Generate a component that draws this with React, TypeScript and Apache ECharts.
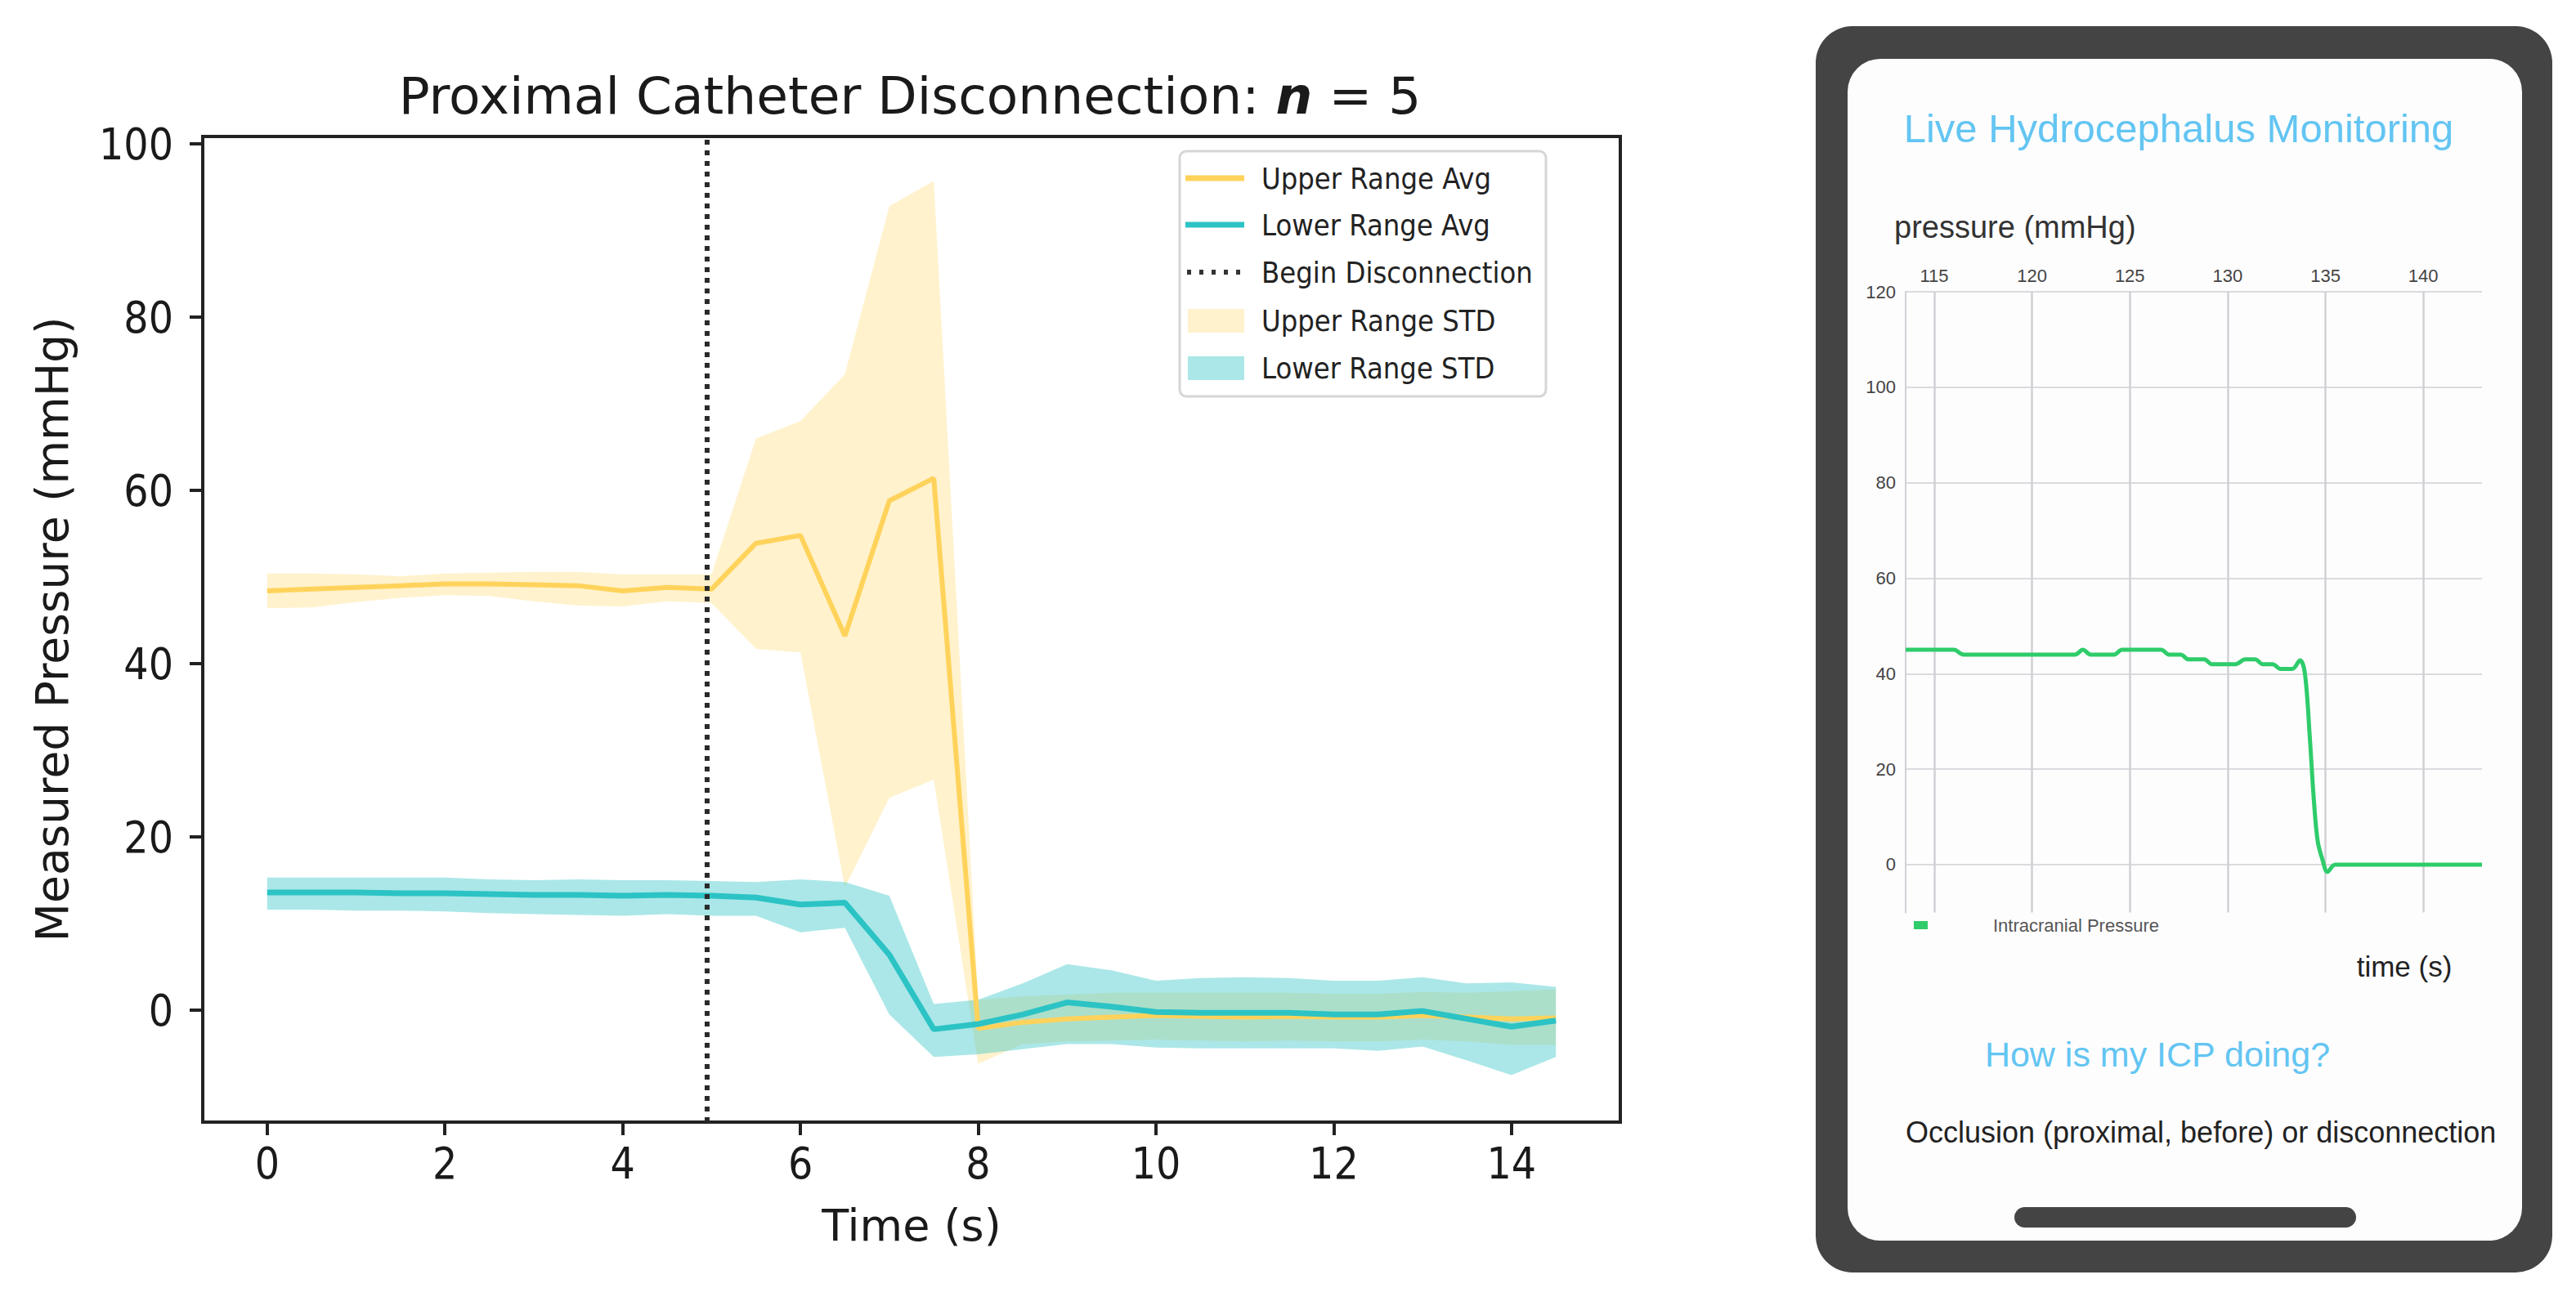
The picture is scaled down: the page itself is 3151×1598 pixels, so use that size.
import React, { useEffect, useRef } from "react";
import * as echarts from "echarts";

// ---------------- Left chart data ----------------
const timeS = [0, 0.5, 1, 1.5, 2, 2.5, 3, 3.5, 4, 4.5, 5, 5.5, 6, 6.5, 7, 7.5, 8, 8.5, 9, 9.5, 10, 10.5, 11, 11.5, 12, 12.5, 13, 13.5, 14, 14.5];
const upperAvg = [48.4, 48.6, 48.8, 49.0, 49.2, 49.2, 49.1, 49.0, 48.4, 48.8, 48.6, 53.9, 54.8, 43.2, 58.8, 61.4, -2.1, -1.4, -1.0, -0.8, -0.6, -0.7, -0.8, -0.7, -0.8, -0.8, -0.6, -0.8, -1.0, -0.9];
const upperStdHigh = [50.4, 50.4, 50.3, 50.1, 50.4, 50.5, 50.6, 50.6, 50.3, 50.3, 50.3, 66.0, 68.0, 73.4, 92.8, 95.7, 1.2, 1.6, 1.8, 2.0, 2.0, 2.0, 2.0, 2.0, 1.9, 1.9, 2.1, 2.0, 2.2, 2.4];
const upperStdLow = [46.4, 46.5, 47.1, 47.6, 47.9, 47.8, 47.2, 46.7, 46.6, 47.2, 47.0, 41.7, 41.3, 14.2, 24.5, 26.6, -6.2, -3.9, -3.6, -3.5, -3.4, -3.5, -3.6, -3.5, -3.6, -3.6, -3.4, -3.6, -4.0, -4.0];
const lowerAvg = [13.6, 13.6, 13.6, 13.5, 13.5, 13.4, 13.3, 13.3, 13.2, 13.3, 13.2, 13.0, 12.2, 12.4, 6.4, -2.2, -1.6, -0.5, 0.9, 0.4, -0.2, -0.3, -0.3, -0.3, -0.5, -0.5, -0.1, -1.0, -1.9, -1.2];
const lowerStdHigh = [15.3, 15.3, 15.3, 15.3, 15.3, 15.1, 15.0, 15.1, 15.0, 15.0, 14.9, 14.8, 15.1, 14.8, 13.2, 0.7, 1.2, 3.1, 5.3, 4.6, 3.4, 3.7, 3.8, 3.7, 3.4, 3.4, 3.8, 3.1, 3.2, 2.7];
const lowerStdLow = [11.6, 11.6, 11.5, 11.5, 11.4, 11.2, 11.1, 11.0, 10.9, 11.1, 10.9, 10.9, 9.0, 9.5, -0.5, -5.4, -5.1, -4.5, -3.9, -3.9, -4.3, -4.4, -4.4, -4.4, -4.4, -4.7, -4.2, -5.8, -7.5, -5.4];
const disconnectTime = 4.95;
const xRange = [-0.725, 15.225];
const yRange = [-12.92, 100.85];
const xTicks = [0, 2, 4, 6, 8, 10, 12, 14];
const yTicks = [0, 20, 40, 60, 80, 100];
const legendLabels = ["Upper Range Avg", "Lower Range Avg", "Begin Disconnection", "Upper Range STD", "Lower Range STD"];

// ---------------- Phone chart data ----------------
const icpTime = [113.54, 116.0, 116.5, 122.2, 122.6, 123.0, 124.2, 124.6, 126.6, 127.0, 127.6, 128.0, 128.8, 129.2, 130.4, 130.9, 131.4, 131.8, 132.3, 132.7, 133.3, 133.7, 133.95, 134.2, 134.4, 134.6, 134.85, 135.1, 135.5, 143.0];
const icpValue = [45, 45, 44, 44, 45, 44, 44, 45, 45, 44, 44, 43, 43, 42, 42, 43, 43, 42, 42, 41, 41, 42.8, 40, 26.6, 13.9, 5, 1, -1.5, 0, 0];
const icpXRange = [113.54, 143.0];
const icpYRange = [-10, 120];
const icpXTicks = [115, 120, 125, 130, 135, 140];
const icpYTicks = [0, 20, 40, 60, 80, 100, 120];

const YELLOW = "#FFD35B";
const CYAN = "#2CC3C5";
const YELLOW_BAND = "rgba(255,211,91,0.3)";
const CYAN_BAND = "rgba(44,195,197,0.4)";
const GREEN = "#2ECC6A";
const BLUE = "#63C5F2";
const MPL = "'DejaVu Sans Condensed', 'DejaVu Sans', sans-serif";
const MPL_REG = "'DejaVu Sans', sans-serif";
const APP = "'Liberation Sans', Arial, sans-serif";

function bandRender(hi: number[], lo: number[], fill: string) {
  return (params: any, api: any) => {
    if (params.dataIndex !== 0) return { type: "group", children: [] };
    const pts: number[][] = [];
    for (let i = 0; i < timeS.length; i++) pts.push(api.coord([timeS[i], hi[i]]));
    for (let i = timeS.length - 1; i >= 0; i--) pts.push(api.coord([timeS[i], lo[i]]));
    return { type: "polygon", shape: { points: pts }, style: { fill } };
  };
}

function txt(x: number, y: number, text: string, size: number, fill: string, family: string, align = "center", extra: any = {}) {
  return {
    type: "text",
    x,
    y,
    silent: true,
    ...extra,
    style: {
      text,
      fill,
      fontSize: size,
      fontFamily: family,
      textAlign: align,
      textVerticalAlign: "middle",
      align,
      verticalAlign: "middle",
      ...(extra.style || {}),
    },
  };
}

export default function App() {
  const ref = useRef<HTMLDivElement>(null);
  useEffect(() => {
    document.body.style.margin = "0";
    if (!ref.current) return;
    const chart = echarts.init(ref.current, undefined, { renderer: "svg" });

    const legendRows = [218, 275, 333, 392, 450];
    const graphic: any[] = [
      // phone body
      { type: "rect", z: -10, silent: true, shape: { x: 2221, y: 32, width: 901, height: 1525, r: 45 }, style: { fill: "#444444" } },
      { type: "rect", z: -9, silent: true, shape: { x: 2260, y: 72, width: 825, height: 1446, r: 40 }, style: { fill: "#FEFDFE" } },
      { type: "rect", z: -8, silent: true, shape: { x: 2464, y: 1477, width: 418, height: 25, r: 12.5 }, style: { fill: "#444444" } },
      txt(2665, 157, "Live Hydrocephalus Monitoring", 49, BLUE, APP),
      txt(2317, 278, "pressure (mmHg)", 38, "#333333", APP, "left"),
      { type: "rect", silent: true, shape: { x: 2341, y: 1127, width: 17, height: 10 }, style: { fill: GREEN } },
      txt(2438, 1132, "Intracranial Pressure", 22, "#555555", APP, "left"),
      txt(2941, 1182, "time (s)", 35, "#222222", APP),
      txt(2639, 1290, "How is my ICP doing?", 43, BLUE, APP),
      txt(2331, 1385, "Occlusion (proximal, before) or disconnection", 36, "#222222", APP, "left"),
      // left chart texts
      {
        type: "text", x: 1113, y: 117, silent: true,
        style: {
          text: "Proximal Catheter Disconnection: {i|n} = 5",
          fill: "#1a1a1a", fontSize: 63, fontFamily: MPL_REG,
          textAlign: "center", textVerticalAlign: "middle", align: "center", verticalAlign: "middle",
          rich: { i: { fontSize: 63, fontFamily: MPL_REG, fontStyle: "italic", fontWeight: "bold", fill: "#1a1a1a" } },
        },
      },
      txt(1115, 1499, "Time (s)", 54, "#1a1a1a", MPL_REG),
      txt(64, 770, "Measured Pressure (mmHg)", 55, "#1a1a1a", MPL_REG, "center", { rotation: Math.PI / 2 }),
      // legend
      { type: "rect", z: 20, silent: true, shape: { x: 1443, y: 185, width: 448, height: 300, r: 8 }, style: { fill: "rgba(255,255,255,0.8)", stroke: "#d6d6d6", lineWidth: 3 } },
      { type: "line", z: 21, silent: true, shape: { x1: 1450, y1: legendRows[0], x2: 1522, y2: legendRows[0] }, style: { stroke: YELLOW, lineWidth: 7 } },
      { type: "line", z: 21, silent: true, shape: { x1: 1450, y1: legendRows[1], x2: 1522, y2: legendRows[1] }, style: { stroke: CYAN, lineWidth: 7 } },
      { type: "line", z: 21, silent: true, shape: { x1: 1452, y1: legendRows[2], x2: 1522, y2: legendRows[2] }, style: { stroke: "#333333", lineWidth: 6, lineDash: [5, 10] } },
      { type: "rect", z: 21, silent: true, shape: { x: 1453, y: legendRows[3] - 14, width: 69, height: 29 }, style: { fill: YELLOW_BAND } },
      { type: "rect", z: 21, silent: true, shape: { x: 1453, y: legendRows[4] - 14, width: 69, height: 29 }, style: { fill: CYAN_BAND } },
      ...legendLabels.map((l, i) => txt(1543, legendRows[i], l, 36, "#222222", MPL, "left", { z: 22 })),
    ];

    const option: any = {
      animation: false,
      backgroundColor: "#ffffff",
      grid: [
        { left: 248, top: 167, width: 1734, height: 1206, show: true, borderColor: "#222222", borderWidth: 4, backgroundColor: "transparent", containLabel: false },
        { left: 2331, top: 357, width: 705, height: 759.4, show: false, containLabel: false },
      ],
      xAxis: [
        {
          type: "value", gridIndex: 0, min: xRange[0], max: xRange[1],
          axisLine: { show: false, onZero: false },
          axisTick: { show: true, customValues: xTicks, length: 16, lineStyle: { color: "#222222", width: 4 } },
          axisLabel: { customValues: xTicks, fontSize: 53, fontFamily: MPL, color: "#1a1a1a", margin: 24 },
          splitLine: { show: false },
        },
        {
          type: "value", gridIndex: 1, min: icpXRange[0], max: icpXRange[1], position: "top",
          axisLine: { show: false, onZero: false },
          axisTick: { show: false, customValues: icpXTicks },
          axisLabel: { customValues: icpXTicks, fontSize: 22, fontFamily: APP, color: "#444444", margin: 9 },
          splitLine: { show: true, lineStyle: { color: "#d2cfd5", width: 2.5 } },
        },
      ],
      yAxis: [
        {
          type: "value", gridIndex: 0, min: yRange[0], max: yRange[1],
          axisLine: { show: false, onZero: false },
          axisTick: { show: true, customValues: yTicks, length: 16, lineStyle: { color: "#222222", width: 4 } },
          axisLabel: { customValues: yTicks, fontSize: 53, fontFamily: MPL, color: "#1a1a1a", margin: 36 },
          splitLine: { show: false },
        },
        {
          type: "value", gridIndex: 1, min: icpYRange[0], max: icpYRange[1],
          axisLine: { show: true, onZero: false, lineStyle: { color: "#d2cfd5", width: 2 } },
          axisTick: { show: false, customValues: icpYTicks },
          axisLabel: { customValues: icpYTicks, fontSize: 22, fontFamily: APP, color: "#444444", margin: 12 },
          splitLine: { show: true, lineStyle: { color: "#dcdadf", width: 2 } },
        },
      ],
      series: [
        {
          name: "Upper Range STD", type: "custom", xAxisIndex: 0, yAxisIndex: 0, z: 1, silent: true,
          data: timeS.map((t, i) => [t, upperStdHigh[i]]),
          renderItem: bandRender(upperStdHigh, upperStdLow, YELLOW_BAND),
        },
        {
          name: "Lower Range STD", type: "custom", xAxisIndex: 0, yAxisIndex: 0, z: 1, silent: true,
          data: timeS.map((t, i) => [t, lowerStdHigh[i]]),
          renderItem: bandRender(lowerStdHigh, lowerStdLow, CYAN_BAND),
        },
        {
          name: "Upper Range Avg", type: "line", xAxisIndex: 0, yAxisIndex: 0, z: 3, silent: true,
          symbol: "none", data: timeS.map((t, i) => [t, upperAvg[i]]),
          lineStyle: { color: YELLOW, width: 6 },
        },
        {
          name: "Lower Range Avg", type: "line", xAxisIndex: 0, yAxisIndex: 0, z: 3, silent: true,
          symbol: "none", data: timeS.map((t, i) => [t, lowerAvg[i]]),
          lineStyle: { color: CYAN, width: 7 },
        },
        {
          name: "Begin Disconnection", type: "line", xAxisIndex: 0, yAxisIndex: 0, z: 4, silent: true,
          symbol: "none", data: [[disconnectTime, yRange[0]], [disconnectTime, yRange[1]]],
          lineStyle: { color: "#2a2a2a", width: 6, type: [6, 7] },
        },
        {
          name: "Intracranial Pressure", type: "line", xAxisIndex: 1, yAxisIndex: 1, z: 3, silent: true,
          symbol: "none", smooth: 0.35, data: icpTime.map((t, i) => [t, icpValue[i]]),
          lineStyle: { color: GREEN, width: 5 },
        },
      ],
      graphic,
    };
    chart.setOption(option);
    return () => chart.dispose();
  }, []);
  return <div ref={ref} style={{ width: 3151, height: 1598 }} />;
}
